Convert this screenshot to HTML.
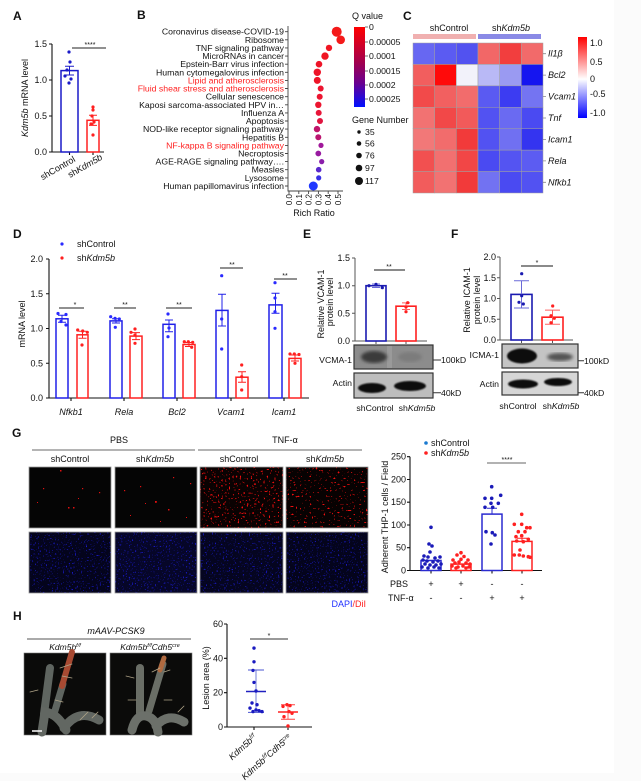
<!DOCTYPE html>
<html><head><meta charset="utf-8">
<style>
html,body{margin:0;padding:0;background:#fff;}
svg{display:block;}
text{font-family:"Liberation Sans",Arial,sans-serif;fill:#111;}
.i{font-style:italic;}
</style></head><body>
<svg width="641" height="781" viewBox="0 0 641 781" xmlns="http://www.w3.org/2000/svg">
<defs>
<linearGradient id="qg" x1="0" y1="0" x2="0" y2="1">
<stop offset="0" stop-color="#ff0000"/><stop offset="0.45" stop-color="#a00050"/><stop offset="0.7" stop-color="#6a0090"/><stop offset="1" stop-color="#0010ff"/>
</linearGradient>
<linearGradient id="hg" x1="0" y1="0" x2="0" y2="1">
<stop offset="0" stop-color="#ff0000"/><stop offset="0.52" stop-color="#ffffff"/><stop offset="1" stop-color="#0000ff"/>
</linearGradient>
<filter id="fr" filterUnits="objectBoundingBox" x="0" y="0" width="1" height="1" color-interpolation-filters="sRGB">
<feTurbulence type="fractalNoise" baseFrequency="0.55" numOctaves="1" seed="4"/>
<feColorMatrix type="matrix" values="0 0 0 0 0.95  0 0 0 0 0.06  0 0 0 0 0.06  14 0 0 0 -8.8"/>
</filter>
<filter id="fr2" filterUnits="objectBoundingBox" x="0" y="0" width="1" height="1" color-interpolation-filters="sRGB">
<feTurbulence type="fractalNoise" baseFrequency="0.5" numOctaves="1" seed="11"/>
<feColorMatrix type="matrix" values="0 0 0 0 0.95  0 0 0 0 0.06  0 0 0 0 0.06  14 0 0 0 -9.2"/>
</filter>
<filter id="fb" filterUnits="objectBoundingBox" x="0" y="0" width="1" height="1" color-interpolation-filters="sRGB">
<feTurbulence type="fractalNoise" baseFrequency="0.65" numOctaves="1" seed="9"/>
<feColorMatrix type="matrix" values="0 0 0 0 0.1  0 0 0 0 0.1  0 0 0 0 0.8  8 0 0 0 -4.9"/>
</filter>
<filter id="bl"><feGaussianBlur stdDeviation="1.6"/></filter>
<filter id="bl2"><feGaussianBlur stdDeviation="0.9"/></filter>
</defs>
<rect width="641" height="781" fill="#fbfbfb"/>
<rect x="0" y="0" width="614" height="773" fill="#fff"/>

<!-- ===== Panel A ===== -->
<text x="13" y="20" font-size="12" font-weight="bold">A</text>
<g font-size="9" text-anchor="end">
<text x="47" y="155">0.0</text><text x="47" y="119">0.5</text><text x="47" y="83">1.0</text><text x="47" y="47">1.5</text>
</g>
<path d="M52,44V152H104 M49,44H52 M49,80H52 M49,116H52 M49,152H52 M69.5,152V155 M93,152V155" stroke="#111" stroke-width="1.1" fill="none"/>
<text transform="translate(28,98) rotate(-90)" text-anchor="middle" font-size="9"><tspan class="i">Kdm5b</tspan> mRNA level</text>
<rect x="61" y="70.6" width="17" height="81.4" fill="none" stroke="#1a1ac8" stroke-width="1.5"/>
<path d="M69.5,66.3V75 M65,66.3H74 M65,75H74" stroke="#1a1ac8" stroke-width="1"/>
<g fill="#1a1ac8"><circle cx="69" cy="52" r="1.6"/><circle cx="70" cy="62" r="1.6"/><circle cx="67" cy="70" r="1.6"/><circle cx="65" cy="76" r="1.6"/><circle cx="71" cy="79" r="1.6"/><circle cx="69" cy="83" r="1.6"/></g>
<rect x="87" y="120.3" width="12" height="31.7" fill="none" stroke="#ff2020" stroke-width="1.5"/>
<path d="M93,115.3V125.4 M89,115.3H97 M89,125.4H97" stroke="#ff2020" stroke-width="1"/>
<g fill="#ff2020"><circle cx="93" cy="107" r="1.6"/><circle cx="93" cy="110" r="1.6"/><circle cx="92" cy="116" r="1.6"/><circle cx="94" cy="122" r="1.6"/><circle cx="91" cy="124" r="1.6"/><circle cx="93" cy="135" r="1.6"/></g>
<path d="M72,48H106" stroke="#222" stroke-width="1"/>
<text x="90" y="47" font-size="7" text-anchor="middle">****</text>
<text transform="translate(76,161) rotate(-30)" text-anchor="end" font-size="9">shControl</text>
<text transform="translate(103,159) rotate(-30)" text-anchor="end" font-size="9">sh<tspan class="i">Kdm5b</tspan></text>

<!-- ===== Panel B ===== -->
<text x="137" y="19" font-size="12" font-weight="bold">B</text>
<g font-size="8.7" text-anchor="end">
<text x="284" y="34.7">Coronavirus disease-COVID-19</text>
<text x="284" y="42.8">Ribosome</text>
<text x="284" y="50.9">TNF signaling pathway</text>
<text x="284" y="59.1">MicroRNAs in cancer</text>
<text x="284" y="67.2">Epstein-Barr virus infection</text>
<text x="284" y="75.3">Human cytomegalovirus infection</text>
<text x="284" y="83.4" style="fill:#ff2020">Lipid and atherosclerosis</text>
<text x="284" y="91.5" style="fill:#ff2020">Fluid shear stress and atherosclerosis</text>
<text x="284" y="99.7">Cellular senescence</text>
<text x="284" y="107.8">Kaposi sarcoma-associated HPV in…</text>
<text x="284" y="115.9">Influenza A</text>
<text x="284" y="124">Apoptosis</text>
<text x="284" y="132.1">NOD-like receptor signaling pathway</text>
<text x="284" y="140.3">Hepatitis B</text>
<text x="284" y="148.4" style="fill:#ff2020">NF-kappa B signaling pathway</text>
<text x="284" y="156.5">Necroptosis</text>
<text x="284" y="164.6">AGE-RAGE signaling pathway….</text>
<text x="284" y="172.7">Measles</text>
<text x="284" y="180.9">Lysosome</text>
<text x="284" y="189">Human papillomavirus infection</text>
</g>
<path d="M288,26V191H343 M285,31.7h3 M285,39.8h3 M285,47.9h3 M285,56.1h3 M285,64.2h3 M285,72.3h3 M285,80.4h3 M285,88.5h3 M285,96.7h3 M285,104.8h3 M285,112.9h3 M285,121h3 M285,129.1h3 M285,137.3h3 M285,145.4h3 M285,153.5h3 M285,161.6h3 M285,169.7h3 M285,177.9h3 M285,186h3 M289,191v3 M298.8,191v3 M308.6,191v3 M318.4,191v3 M328.2,191v3 M338,191v3" stroke="#444" stroke-width="0.9" fill="none"/>
<g font-size="8" text-anchor="end">
<text transform="translate(292,194) rotate(-90)">0.0</text>
<text transform="translate(301.8,194) rotate(-90)">0.1</text>
<text transform="translate(311.6,194) rotate(-90)">0.2</text>
<text transform="translate(321.4,194) rotate(-90)">0.3</text>
<text transform="translate(331.2,194) rotate(-90)">0.4</text>
<text transform="translate(341,194) rotate(-90)">0.5</text>
</g>
<text x="314" y="216" font-size="9" text-anchor="middle">Rich Ratio</text>
<circle cx="336.7" cy="31.7" r="5" fill="#f41a1a"/>
<circle cx="340.7" cy="39.8" r="4.3" fill="#f41a1a"/>
<circle cx="329" cy="47.9" r="3.2" fill="#f01522"/>
<circle cx="325" cy="56.1" r="3.7" fill="#f01522"/>
<circle cx="319" cy="64.2" r="3.3" fill="#ee1428"/>
<circle cx="317.3" cy="72.3" r="3.7" fill="#ee1428"/>
<circle cx="317.3" cy="80.4" r="3.5" fill="#ee1428"/>
<circle cx="320.7" cy="88.5" r="3" fill="#ec1530"/>
<circle cx="319.7" cy="96.7" r="3" fill="#ec1530"/>
<circle cx="318.3" cy="104.8" r="3.2" fill="#ec1530"/>
<circle cx="318.7" cy="112.9" r="3" fill="#e81538"/>
<circle cx="320" cy="121" r="3" fill="#e01540"/>
<circle cx="317" cy="129.1" r="3.2" fill="#c0156a"/>
<circle cx="318.3" cy="137.3" r="3" fill="#bb1570"/>
<circle cx="321" cy="145.4" r="2.6" fill="#a0189a"/>
<circle cx="318.3" cy="153.5" r="2.9" fill="#981aa0"/>
<circle cx="321.7" cy="161.6" r="2.6" fill="#8a1eaa"/>
<circle cx="318.7" cy="169.7" r="2.8" fill="#5a28cc"/>
<circle cx="318.7" cy="177.9" r="2.6" fill="#3830e6"/>
<circle cx="313.3" cy="186" r="4.5" fill="#2038ff"/>
<!-- Q value legend -->
<text x="352" y="19" font-size="9">Q value</text>
<rect x="354" y="27" width="11" height="80" fill="url(#qg)"/>
<path d="M365,27h3 M365,42h3 M365,56h3 M365,71h3 M365,85h3 M365,99h3" stroke="#444" stroke-width="0.8"/>
<g font-size="8.7">
<text x="369" y="30">0</text><text x="369" y="45">0.00005</text><text x="369" y="59">0.0001</text><text x="369" y="74">0.00015</text><text x="369" y="88">0.0002</text><text x="369" y="102">0.00025</text>
</g>
<text x="352" y="123" font-size="9">Gene Number</text>
<g fill="#111"><circle cx="359" cy="132" r="1.7"/><circle cx="359" cy="143.5" r="2.3"/><circle cx="359" cy="155.5" r="2.8"/><circle cx="359" cy="168" r="3.3"/><circle cx="359" cy="181" r="4"/></g>
<g font-size="8.7"><text x="365" y="135">35</text><text x="365" y="146.5">56</text><text x="365" y="158.5">76</text><text x="365" y="171">97</text><text x="365" y="184">117</text></g>

<!-- ===== Panel C ===== -->
<text x="403" y="20" font-size="12" font-weight="bold">C</text>
<text x="449" y="31" font-size="9" text-anchor="middle">shControl</text>
<text x="511" y="31" font-size="9" text-anchor="middle">sh<tspan class="i">Kdm5b</tspan></text>
<rect x="413" y="34" width="63" height="5" fill="#f0b0b0"/>
<rect x="478" y="34" width="63" height="5" fill="#8a8ae6"/>
<g stroke="#a0a0a0" stroke-width="0.5">
<rect x="413" y="43" width="21.67" height="21.43" fill="#6767f2"/><rect x="434.67" y="43" width="21.67" height="21.43" fill="#5b5bf2"/><rect x="456.33" y="43" width="21.67" height="21.43" fill="#5252f0"/><rect x="478" y="43" width="21.67" height="21.43" fill="#f26767"/><rect x="499.67" y="43" width="21.67" height="21.43" fill="#f23e3e"/><rect x="521.33" y="43" width="21.67" height="21.43" fill="#f26a6a"/>
<rect x="413" y="64.43" width="21.67" height="21.43" fill="#f25e5e"/><rect x="434.67" y="64.43" width="21.67" height="21.43" fill="#ff0a0a"/><rect x="456.33" y="64.43" width="21.67" height="21.43" fill="#f2f2fa"/><rect x="478" y="64.43" width="21.67" height="21.43" fill="#b9b9f6"/><rect x="499.67" y="64.43" width="21.67" height="21.43" fill="#9a9af2"/><rect x="521.33" y="64.43" width="21.67" height="21.43" fill="#1515f0"/>
<rect x="413" y="85.86" width="21.67" height="21.43" fill="#f24a4a"/><rect x="434.67" y="85.86" width="21.67" height="21.43" fill="#f26060"/><rect x="456.33" y="85.86" width="21.67" height="21.43" fill="#f26c6c"/><rect x="478" y="85.86" width="21.67" height="21.43" fill="#5a5af2"/><rect x="499.67" y="85.86" width="21.67" height="21.43" fill="#3c3cf2"/><rect x="521.33" y="85.86" width="21.67" height="21.43" fill="#7474f2"/>
<rect x="413" y="107.29" width="21.67" height="21.43" fill="#f27272"/><rect x="434.67" y="107.29" width="21.67" height="21.43" fill="#f24848"/><rect x="456.33" y="107.29" width="21.67" height="21.43" fill="#f25a5a"/><rect x="478" y="107.29" width="21.67" height="21.43" fill="#5252f2"/><rect x="499.67" y="107.29" width="21.67" height="21.43" fill="#6a6af2"/><rect x="521.33" y="107.29" width="21.67" height="21.43" fill="#4a4af2"/>
<rect x="413" y="128.71" width="21.67" height="21.43" fill="#f27878"/><rect x="434.67" y="128.71" width="21.67" height="21.43" fill="#f26c6c"/><rect x="456.33" y="128.71" width="21.67" height="21.43" fill="#f23a3a"/><rect x="478" y="128.71" width="21.67" height="21.43" fill="#5252f2"/><rect x="499.67" y="128.71" width="21.67" height="21.43" fill="#7070f2"/><rect x="521.33" y="128.71" width="21.67" height="21.43" fill="#3434f0"/>
<rect x="413" y="150.14" width="21.67" height="21.43" fill="#f25050"/><rect x="434.67" y="150.14" width="21.67" height="21.43" fill="#f27070"/><rect x="456.33" y="150.14" width="21.67" height="21.43" fill="#f24646"/><rect x="478" y="150.14" width="21.67" height="21.43" fill="#4a4af2"/><rect x="499.67" y="150.14" width="21.67" height="21.43" fill="#5454f2"/><rect x="521.33" y="150.14" width="21.67" height="21.43" fill="#5c5cf2"/>
<rect x="413" y="171.57" width="21.67" height="21.43" fill="#f25c5c"/><rect x="434.67" y="171.57" width="21.67" height="21.43" fill="#f27272"/><rect x="456.33" y="171.57" width="21.67" height="21.43" fill="#f23a3a"/><rect x="478" y="171.57" width="21.67" height="21.43" fill="#7272f2"/><rect x="499.67" y="171.57" width="21.67" height="21.43" fill="#4a4af2"/><rect x="521.33" y="171.57" width="21.67" height="21.43" fill="#5252f2"/>
</g>
<path d="M543,53.7h3 M543,75.1h3 M543,96.6h3 M543,118h3 M543,139.4h3 M543,160.9h3 M543,182.3h3" stroke="#888" stroke-width="0.8"/>
<g font-size="9" class="i">
<text x="548" y="56.7" class="i">Il1β</text><text x="548" y="78.1" class="i">Bcl2</text><text x="548" y="99.6" class="i">Vcam1</text><text x="548" y="121" class="i">Tnf</text><text x="548" y="142.4" class="i">Icam1</text><text x="548" y="163.9" class="i">Rela</text><text x="548" y="185.3" class="i">Nfkb1</text>
</g>
<rect x="578" y="37" width="9" height="81" fill="url(#hg)"/>
<g font-size="9"><text x="590" y="46">1.0</text><text x="590" y="65">0.5</text><text x="590" y="82">0</text><text x="590" y="97">-0.5</text><text x="590" y="116">-1.0</text></g>

<!-- ===== Panel D ===== -->
<text x="13" y="238" font-size="12" font-weight="bold">D</text>
<circle cx="62" cy="244" r="1.6" fill="#2a2aff"/><text x="77" y="247" font-size="9">shControl</text>
<circle cx="62" cy="258" r="1.6" fill="#ff2020"/><text x="77" y="261" font-size="9">sh<tspan class="i">Kdm5b</tspan></text>
<path d="M49,259V398H309 M46,259H49 M46,293.75H49 M46,328.5H49 M46,363.25H49 M46,398H49 M71,398v3 M124,398v3 M177,398v3 M231,398v3 M284,398v3" stroke="#111" stroke-width="1.1" fill="none"/>
<g font-size="9" text-anchor="end"><text x="43" y="262">2.0</text><text x="43" y="296.75">1.5</text><text x="43" y="331.5">1.0</text><text x="43" y="366.25">0.5</text><text x="43" y="401">0.0</text></g>
<text transform="translate(25,324) rotate(-90)" text-anchor="middle" font-size="9">mRNA level</text>
<g font-size="9" class="i" text-anchor="middle"><text x="71" y="415" class="i">Nfkb1</text><text x="124" y="415" class="i">Rela</text><text x="177" y="415" class="i">Bcl2</text><text x="231" y="415" class="i">Vcam1</text><text x="284" y="415" class="i">Icam1</text></g>
<g fill="none" stroke-width="1.5">
<rect x="56" y="318.8" width="12" height="79.2" stroke="#2020e8"/>
<rect x="77" y="334.8" width="11" height="63.2" stroke="#ff2020"/>
<rect x="110" y="320.9" width="12" height="77.1" stroke="#2020e8"/>
<rect x="130" y="336.1" width="12" height="61.9" stroke="#ff2020"/>
<rect x="163" y="324.3" width="12" height="73.7" stroke="#2020e8"/>
<rect x="183" y="344.5" width="12" height="53.5" stroke="#ff2020"/>
<rect x="216" y="310.4" width="12" height="87.6" stroke="#2020e8"/>
<rect x="236" y="377.2" width="12" height="20.8" stroke="#ff2020"/>
<rect x="269" y="304.9" width="13" height="93.1" stroke="#2020e8"/>
<rect x="289" y="358.4" width="12" height="39.6" stroke="#ff2020"/>
</g>
<g stroke-width="1" fill="none">
<path d="M62,315.3V322.3 M58,315.3H66 M58,322.3H66 M116,318.8V323 M112,318.8H120 M112,323H120 M169,320V331.7 M165,320H173 M165,331.7H173 M222,294.3V326 M218,294.3H226 M218,326H226 M275.5,293.3V313.3 M271.5,293.3H279.5 M271.5,313.3H279.5" stroke="#2020e8"/>
<path d="M82.5,331.3V338.3 M78.5,331.3H86.5 M78.5,338.3H86.5 M136,332.6V339.6 M132,332.6H140 M132,339.6H140 M189,342.5V346.5 M185,342.5H193 M185,346.5H193 M242,371.7V382.3 M238,371.7H246 M238,382.3H246 M295,355V361 M291,355H299 M291,361H299" stroke="#ff2020"/>
</g>
<g fill="#2a2aff">
<circle cx="58" cy="313.5" r="1.6"/><circle cx="66" cy="314.5" r="1.6"/><circle cx="61" cy="321.5" r="1.6"/><circle cx="66" cy="325" r="1.6"/>
<circle cx="110.7" cy="316.7" r="1.6"/><circle cx="115" cy="318.3" r="1.6"/><circle cx="119.3" cy="319" r="1.6"/><circle cx="115.3" cy="327.3" r="1.6"/>
<circle cx="168" cy="314" r="1.6"/><circle cx="169" cy="328" r="1.6"/><circle cx="168" cy="336.7" r="1.6"/>
<circle cx="221.7" cy="275.7" r="1.6"/><circle cx="221.7" cy="319" r="1.6"/><circle cx="221.7" cy="349" r="1.6"/>
<circle cx="275" cy="282.7" r="1.6"/><circle cx="275" cy="298" r="1.6"/><circle cx="275" cy="311.7" r="1.6"/><circle cx="275" cy="328.3" r="1.6"/>
</g>
<g fill="#ff2020">
<circle cx="77.7" cy="330" r="1.6"/><circle cx="82.7" cy="331" r="1.6"/><circle cx="87.3" cy="332.3" r="1.6"/><circle cx="82" cy="345" r="1.6"/>
<circle cx="135" cy="329" r="1.6"/><circle cx="131" cy="332.3" r="1.6"/><circle cx="135" cy="335" r="1.6"/><circle cx="135" cy="343.3" r="1.6"/>
<circle cx="184.3" cy="341.7" r="1.6"/><circle cx="188.3" cy="341.7" r="1.6"/><circle cx="192.7" cy="342.3" r="1.6"/><circle cx="191.7" cy="347.3" r="1.6"/>
<circle cx="241.7" cy="365" r="1.6"/><circle cx="241.7" cy="376.7" r="1.6"/><circle cx="241.7" cy="390" r="1.6"/>
<circle cx="290" cy="354" r="1.6"/><circle cx="294.3" cy="354" r="1.6"/><circle cx="299" cy="354.5" r="1.6"/><circle cx="295" cy="363.3" r="1.6"/>
</g>
<path d="M59,308H84 M114,308H136 M166,308H192 M220,268H243 M274,279H297" stroke="#222" stroke-width="1"/>
<g font-size="7" text-anchor="middle"><text x="75" y="307">*</text><text x="125" y="307">**</text><text x="179" y="307">**</text><text x="232" y="267">**</text><text x="285" y="278">**</text></g>

<!-- ===== Panel E ===== -->
<text x="303" y="238" font-size="12" font-weight="bold">E</text>
<path d="M355,258V341H427 M352,258H355 M352,285.7H355 M352,313.3H355 M352,341H355 M376,341v3 M406,341v3" stroke="#555" stroke-width="1" fill="none"/>
<g font-size="9" text-anchor="end"><text x="350" y="261">1.5</text><text x="350" y="288.7">1.0</text><text x="350" y="316.3">0.5</text><text x="350" y="344">0.0</text></g>
<text transform="translate(324,304) rotate(-90)" text-anchor="middle" font-size="9">Relative VCAM-1</text>
<text transform="translate(333,302) rotate(-90)" text-anchor="middle" font-size="9">protein level</text>
<rect x="366" y="285.7" width="20" height="55.3" fill="none" stroke="#1a1ab0" stroke-width="1.6"/>
<rect x="396" y="306.2" width="20" height="34.8" fill="none" stroke="#ff2020" stroke-width="1.6"/>
<path d="M376,284V287.5 M372,284H380 M372,287.5H380" stroke="#6a6ad8" stroke-width="1"/>
<path d="M406,302.9V309.5 M402,302.9H410 M402,309.5H410" stroke="#ff6060" stroke-width="1"/>
<g fill="#1a1ab0"><circle cx="369" cy="285.7" r="1.6"/><circle cx="376" cy="284.3" r="1.6"/><circle cx="382.3" cy="287.7" r="1.6"/></g>
<g fill="#ff2020"><circle cx="407.7" cy="302.7" r="1.6"/><circle cx="406" cy="307" r="1.6"/><circle cx="406" cy="311.7" r="1.6"/></g>
<path d="M374,270H405" stroke="#444" stroke-width="1.2"/>
<text x="389" y="269" font-size="7" text-anchor="middle">**</text>
<!-- E blots -->
<rect x="354" y="345" width="79" height="24" fill="#8c8c8c" stroke="#333" stroke-width="1.2"/>
<rect x="387" y="346" width="5" height="22" fill="#9a9a9a"/>
<ellipse cx="374" cy="357" rx="13" ry="6" fill="#3a3a3a" filter="url(#bl)"/>
<ellipse cx="410" cy="357" rx="12" ry="5" fill="#7c7c7c" filter="url(#bl)"/>
<rect x="354" y="373" width="79" height="25" fill="#bdbdbd" stroke="#333" stroke-width="1.2"/>
<ellipse cx="372" cy="388" rx="14" ry="5" fill="#111" filter="url(#bl2)"/>
<ellipse cx="410" cy="386" rx="16" ry="5" fill="#111" filter="url(#bl2)"/>
<g font-size="8.7">
<text x="352" y="363" text-anchor="end">VCMA-1</text>
<text x="352" y="386" text-anchor="end">Actin</text>
<text x="441" y="363">100kD</text>
<text x="441" y="396">40kD</text>
<text x="375" y="411" text-anchor="middle">shControl</text>
<text x="417" y="411" text-anchor="middle">sh<tspan class="i">Kdm5b</tspan></text>
</g>
<path d="M433,360H441 M433,392.7H441" stroke="#333" stroke-width="1"/>

<!-- ===== Panel F ===== -->
<text x="451" y="238" font-size="12" font-weight="bold">F</text>
<path d="M500,257V340H573 M497,257H500 M497,277.75H500 M497,298.5H500 M497,319.25H500 M497,340H500 M521.5,340v3 M552.5,340v3" stroke="#555" stroke-width="1" fill="none"/>
<g font-size="9" text-anchor="end"><text x="496" y="260">2.0</text><text x="496" y="280.75">1.5</text><text x="496" y="301.5">1.0</text><text x="496" y="322.25">0.5</text><text x="496" y="343">0.0</text></g>
<text transform="translate(470,300) rotate(-90)" text-anchor="middle" font-size="9">Relative ICAM-1</text>
<text transform="translate(480,300) rotate(-90)" text-anchor="middle" font-size="9">protein level</text>
<rect x="511" y="294.4" width="21" height="45.6" fill="none" stroke="#1a1ab0" stroke-width="1.6"/>
<rect x="542" y="317.2" width="21" height="22.8" fill="none" stroke="#ff2020" stroke-width="1.6"/>
<path d="M521.5,280.7V308 M514,280.7H529 M514,308H529" stroke="#6a6ad8" stroke-width="1"/>
<path d="M552.5,310.1V324.2 M545,310.1H560 M545,324.2H560" stroke="#ff6060" stroke-width="1"/>
<g fill="#1a1ab0"><circle cx="521.7" cy="273.7" r="1.6"/><circle cx="521.7" cy="295.7" r="1.6"/><circle cx="519" cy="302.3" r="1.6"/><circle cx="523.3" cy="304" r="1.6"/></g>
<g fill="#ff2020"><circle cx="552.7" cy="306" r="1.6"/><circle cx="551" cy="315.7" r="1.6"/><circle cx="554.3" cy="318.3" r="1.6"/><circle cx="551" cy="322.7" r="1.6"/></g>
<path d="M521,266H553" stroke="#444" stroke-width="1.2"/>
<text x="537" y="265" font-size="7" text-anchor="middle">*</text>
<!-- F blots -->
<rect x="502" y="344" width="76" height="24" fill="#c4c4c4" stroke="#333" stroke-width="1.2"/>
<ellipse cx="522" cy="356" rx="15" ry="7.5" fill="#111" filter="url(#bl2)"/>
<ellipse cx="560" cy="357" rx="13" ry="4" fill="#555" filter="url(#bl)"/>
<rect x="502" y="372" width="76" height="23" fill="#d6d6d6" stroke="#333" stroke-width="1.2"/>
<ellipse cx="523" cy="384" rx="15" ry="4.5" fill="#111" filter="url(#bl2)"/>
<ellipse cx="558" cy="382" rx="14" ry="4" fill="#111" filter="url(#bl2)"/>
<g font-size="8.7">
<text x="499" y="358" text-anchor="end">ICMA-1</text>
<text x="499" y="387" text-anchor="end">Actin</text>
<text x="584" y="364">100kD</text>
<text x="584" y="396">40kD</text>
<text x="518" y="409" text-anchor="middle">shControl</text>
<text x="561" y="409" text-anchor="middle">sh<tspan class="i">Kdm5b</tspan></text>
</g>
<path d="M578,360.7H584 M578,392.7H584" stroke="#333" stroke-width="1"/>

<!-- ===== Panel G ===== -->
<text x="12" y="437" font-size="12" font-weight="bold">G</text>
<text x="119" y="443" font-size="9" text-anchor="middle">PBS</text>
<text x="285" y="443" font-size="9" text-anchor="middle">TNF-α</text>
<path d="M32,450H195 M198,450H362" stroke="#888" stroke-width="1.2"/>
<g font-size="9" text-anchor="middle">
<text x="70" y="462">shControl</text><text x="155" y="462">sh<tspan class="i">Kdm5b</tspan></text>
<text x="239" y="462">shControl</text><text x="325" y="462">sh<tspan class="i">Kdm5b</tspan></text>
</g>
<!-- row 1 -->
<rect x="29" y="467" width="82" height="61" fill="#050505"/>
<rect x="115" y="467" width="82" height="61" fill="#050505"/>
<rect x="200" y="467" width="83" height="61" fill="#0a0202"/>
<rect x="200" y="467" width="83" height="61" filter="url(#fr)"/>
<rect x="286" y="467" width="82" height="61" fill="#070202"/>
<rect x="286" y="467" width="82" height="61" filter="url(#fr2)"/>
<g fill="#e01010">
<rect x="60" y="470" width="1.5" height="1.5"/><rect x="43" y="488" width="1.2" height="1.2"/><rect x="82" y="488" width="1.2" height="1.2"/><rect x="99" y="492" width="1.2" height="1.2"/><rect x="68" y="507" width="1.5" height="1.5"/><rect x="73" y="507" width="1.5" height="1.5"/><rect x="78" y="498" width="1" height="1"/><rect x="37" y="502" width="1" height="1"/>
<rect x="124" y="490" width="1.2" height="1.2"/><rect x="140" y="486" width="1.2" height="1.2"/><rect x="155" y="501" width="1.8" height="1.8"/><rect x="168" y="509" width="1.5" height="1.5"/><rect x="173" y="477" width="1.2" height="1.2"/><rect x="190" y="483" width="1.2" height="1.2"/><rect x="145" y="503" width="1" height="1"/><rect x="130" y="515" width="1" height="1"/><rect x="186" y="517" width="1" height="1"/><rect x="160" y="521" width="1" height="1"/>
</g>
<!-- row 2 -->
<rect x="29" y="532" width="82" height="61" fill="#04041c"/>
<rect x="29" y="532" width="82" height="61" filter="url(#fb)"/>
<rect x="115" y="532" width="82" height="61" fill="#060628"/>
<rect x="115" y="532" width="82" height="61" filter="url(#fb)"/>
<rect x="200" y="532" width="83" height="61" fill="#050520"/>
<rect x="200" y="532" width="83" height="61" filter="url(#fb)"/>
<rect x="286" y="532" width="82" height="61" fill="#04041c"/>
<rect x="286" y="532" width="82" height="61" filter="url(#fb)"/>
<g fill="none" stroke="#9a9a9a" stroke-width="0.8">
<rect x="29" y="467" width="82" height="61"/><rect x="115" y="467" width="82" height="61"/><rect x="200" y="467" width="83" height="61"/><rect x="286" y="467" width="82" height="61"/>
<rect x="29" y="532" width="82" height="61"/><rect x="115" y="532" width="82" height="61"/><rect x="200" y="532" width="83" height="61"/><rect x="286" y="532" width="82" height="61"/>
</g>
<text x="366" y="607" font-size="9" text-anchor="end"><tspan style="fill:#2030ff">DAPI</tspan><tspan style="fill:#ff2020">/DiI</tspan></text>
<!-- G chart -->
<circle cx="426" cy="443" r="1.8" fill="#1a7ad0"/><text x="431" y="446" font-size="9">shControl</text>
<circle cx="426" cy="453" r="1.8" fill="#ff2020"/><text x="431" y="456" font-size="9">sh<tspan class="i">Kdm5b</tspan></text>
<path d="M410,456.7V570.5H542 M407,456.7H410 M407,479.5H410 M407,502.2H410 M407,525H410 M407,547.7H410 M407,570.5H410 M431,570.5v3 M461,570.5v3 M492,570.5v3 M522,570.5v3" stroke="#111" stroke-width="1.1" fill="none"/>
<g font-size="9" text-anchor="end"><text x="406" y="459.7">250</text><text x="406" y="482.5">200</text><text x="406" y="505.2">150</text><text x="406" y="528">100</text><text x="406" y="550.7">50</text><text x="406" y="573.5">0</text></g>
<text transform="translate(388,517) rotate(-90)" text-anchor="middle" font-size="9">Adherent THP-1 cells / Field</text>
<rect x="421" y="560.5" width="20" height="10" fill="none" stroke="#2a2ad0" stroke-width="1.5"/>
<rect x="451" y="564.1" width="20" height="6.4" fill="none" stroke="#ff2020" stroke-width="1.5"/>
<rect x="482" y="514.1" width="20" height="56.4" fill="none" stroke="#2a2ad0" stroke-width="1.5"/>
<rect x="512" y="541.4" width="20" height="29.1" fill="none" stroke="#ff2020" stroke-width="1.5"/>
<path d="M492,508.2V514 M487,508.2H497" stroke="#2a2ad0" stroke-width="1"/>
<path d="M522,538.2V541.4 M517,538.2H527" stroke="#ff2020" stroke-width="1"/>
<g fill="#1a1ab8">
<circle cx="431" cy="527.3" r="1.8"/><circle cx="429" cy="544" r="1.8"/><circle cx="432" cy="546" r="1.8"/><circle cx="430" cy="552" r="1.8"/><circle cx="424" cy="556" r="1.8"/><circle cx="428" cy="557" r="1.8"/><circle cx="435" cy="558" r="1.8"/><circle cx="440" cy="557" r="1.8"/><circle cx="423" cy="560" r="1.8"/><circle cx="427" cy="561" r="1.8"/><circle cx="433" cy="562" r="1.8"/><circle cx="438" cy="561" r="1.8"/><circle cx="425" cy="564" r="1.8"/><circle cx="430" cy="565" r="1.8"/><circle cx="436" cy="565" r="1.8"/><circle cx="441" cy="564" r="1.8"/><circle cx="422" cy="567" r="1.8"/><circle cx="428" cy="568" r="1.8"/><circle cx="434" cy="567" r="1.8"/><circle cx="439" cy="568" r="1.8"/>
<circle cx="491.7" cy="486.7" r="1.8"/><circle cx="500.7" cy="495.3" r="1.8"/><circle cx="485" cy="498.3" r="1.8"/><circle cx="491.7" cy="498.3" r="1.8"/><circle cx="498.3" cy="503.3" r="1.8"/><circle cx="491" cy="503.3" r="1.8"/><circle cx="485" cy="507.3" r="1.8"/><circle cx="492.7" cy="507.3" r="1.8"/><circle cx="486" cy="531.7" r="1.8"/><circle cx="492.3" cy="532.7" r="1.8"/><circle cx="495" cy="535" r="1.8"/><circle cx="491" cy="544" r="1.8"/>
</g>
<g fill="#ff2020">
<circle cx="461" cy="552.7" r="1.8"/><circle cx="457" cy="555" r="1.8"/><circle cx="464" cy="556.5" r="1.8"/><circle cx="461" cy="559.3" r="1.8"/><circle cx="453" cy="560" r="1.8"/><circle cx="468" cy="560" r="1.8"/><circle cx="455" cy="563" r="1.8"/><circle cx="459" cy="562" r="1.8"/><circle cx="466" cy="563" r="1.8"/><circle cx="470" cy="564" r="1.8"/><circle cx="452" cy="566" r="1.8"/><circle cx="458" cy="567" r="1.8"/><circle cx="463" cy="566" r="1.8"/><circle cx="469" cy="567" r="1.8"/><circle cx="456" cy="568" r="1.8"/><circle cx="466" cy="568" r="1.8"/>
<circle cx="521.7" cy="514.3" r="1.8"/><circle cx="514.3" cy="524.3" r="1.8"/><circle cx="521.7" cy="524.3" r="1.8"/><circle cx="526.7" cy="527.7" r="1.8"/><circle cx="530" cy="527.7" r="1.8"/><circle cx="518.3" cy="531.7" r="1.8"/><circle cx="525" cy="531.7" r="1.8"/><circle cx="516" cy="536.7" r="1.8"/><circle cx="521.7" cy="535.7" r="1.8"/><circle cx="528.3" cy="539.3" r="1.8"/><circle cx="516.7" cy="541" r="1.8"/><circle cx="523.3" cy="541.7" r="1.8"/><circle cx="514.3" cy="555" r="1.8"/><circle cx="519.3" cy="555" r="1.8"/><circle cx="523.3" cy="556" r="1.8"/><circle cx="528.3" cy="556.7" r="1.8"/><circle cx="520" cy="550" r="1.8"/><circle cx="530" cy="557.3" r="1.8"/>
</g>
<path d="M487,463H526" stroke="#666" stroke-width="1.1"/>
<text x="507" y="462" font-size="7" text-anchor="middle">****</text>
<g font-size="9">
<text x="390" y="587">PBS</text><text x="388" y="601">TNF-α</text>
</g>
<g font-size="9" text-anchor="middle">
<text x="431" y="587">+</text><text x="461" y="587">+</text><text x="492" y="587">-</text><text x="522" y="587">-</text>
<text x="431" y="601">-</text><text x="461" y="601">-</text><text x="492" y="601">+</text><text x="522" y="601">+</text>
</g>

<!-- ===== Panel H ===== -->
<text x="13" y="620" font-size="12" font-weight="bold">H</text>
<text x="116" y="634" font-size="9" text-anchor="middle" class="i">mAAV-PCSK9</text>
<path d="M27,639H191" stroke="#555" stroke-width="1.1"/>
<text x="65" y="650" font-size="8.5" text-anchor="middle" class="i">Kdm5b<tspan font-size="5.5" dy="-3">f/f</tspan></text>
<text x="150" y="650" font-size="8.5" text-anchor="middle" class="i">Kdm5b<tspan font-size="5.5" dy="-3">f/f</tspan><tspan dy="3">Cdh5</tspan><tspan font-size="5.5" dy="-3">cre</tspan></text>
<rect x="24" y="653" width="82" height="82" fill="#0b0b0a" stroke="#777" stroke-width="0.6"/>
<rect x="110" y="653" width="82" height="82" fill="#0b0b0a" stroke="#777" stroke-width="0.6"/>
<g fill="none" stroke-linecap="round">
<path d="M50,668 L44,714" stroke="#5f6560" stroke-width="8"/>
<path d="M63,684 L54,714" stroke="#5f6560" stroke-width="7"/>
<path d="M72,652 L62,686" stroke="#a84a32" stroke-width="6"/>
<path d="M42,732 L45,712 Q58,714 66,730 M64,728 Q78,708 99,720" stroke="#626762" stroke-width="9"/>
<path d="M60,668 l12,-4 M62,676 l10,2 M38,690 l-8,2 M80,720 l8,-8 M92,718 l6,-6 M55,700 l8,2" stroke="#b0a488" stroke-width="0.8"/>
<path d="M140,668 L140,713" stroke="#6a6e66" stroke-width="8"/>
<path d="M163,664 L149,711" stroke="#6a6e66" stroke-width="7"/>
<path d="M164,658 L160,670" stroke="#b06a40" stroke-width="5"/>
<path d="M132,730 Q136,714 146,716 Q156,718 158,732 M156,726 Q168,712 184,722" stroke="#6c706a" stroke-width="9"/>
<path d="M126,676 l8,2 M128,700 l8,0 M152,672 l8,-4 M170,670 l-6,2 M172,700 l-8,0 M178,712 l6,-6" stroke="#b0a488" stroke-width="0.8"/>
</g>
<path d="M32,731H42" stroke="#fff" stroke-width="1.5"/>
<!-- H chart -->
<path d="M227,624V727H312 M224,624H227 M224,658.3H227 M224,692.7H227 M224,727H227 M254,727v3 M288,727v3" stroke="#111" stroke-width="1.1" fill="none"/>
<g font-size="9" text-anchor="end"><text x="223" y="627">60</text><text x="223" y="661.3">40</text><text x="223" y="695.7">20</text><text x="223" y="730">0</text></g>
<text transform="translate(209,678) rotate(-90)" text-anchor="middle" font-size="9">Lesion area (%)</text>
<path d="M256,670V712.4" stroke="#8a94e0" stroke-width="1.2"/>
<path d="M248,670H264 M248,712.4H264" stroke="#4a54d0" stroke-width="1"/>
<path d="M246,691.5H266" stroke="#2020c0" stroke-width="1.4"/>
<path d="M288,704.7V719.3" stroke="#ff8080" stroke-width="1.2"/>
<path d="M281,704.7H295 M281,719.3H295" stroke="#ff4040" stroke-width="1"/>
<path d="M278,712H298" stroke="#ff2020" stroke-width="1.4"/>
<g fill="#1a1ac0">
<circle cx="254" cy="648.1" r="1.7"/><circle cx="254" cy="661.8" r="1.7"/><circle cx="253" cy="670.4" r="1.7"/><circle cx="254" cy="682.4" r="1.7"/><circle cx="256" cy="691" r="1.7"/><circle cx="252" cy="703" r="1.7"/><circle cx="257" cy="704.7" r="1.7"/><circle cx="250" cy="708.1" r="1.7"/><circle cx="256" cy="709.9" r="1.7"/><circle cx="259" cy="710.7" r="1.7"/><circle cx="253" cy="711.6" r="1.7"/><circle cx="262" cy="711.6" r="1.7"/>
</g>
<g fill="#ff2020">
<circle cx="287" cy="704.7" r="1.7"/><circle cx="290" cy="705.6" r="1.7"/><circle cx="283" cy="706.4" r="1.7"/><circle cx="289" cy="711.6" r="1.7"/><circle cx="292" cy="713.3" r="1.7"/><circle cx="284" cy="716.7" r="1.7"/><circle cx="288" cy="726" r="1.7"/>
</g>
<path d="M250,639H288" stroke="#333" stroke-width="1"/>
<text x="269" y="638" font-size="7" text-anchor="middle">*</text>
<text transform="translate(257,738) rotate(-42)" text-anchor="end" font-size="9" class="i">Kdm5b<tspan font-size="6" dy="-3">f/f</tspan></text>
<text transform="translate(292,738) rotate(-42)" text-anchor="end" font-size="9" class="i">Kdm5b<tspan font-size="6" dy="-3">f/f</tspan><tspan dy="3">Cdh5</tspan><tspan font-size="6" dy="-3">cre</tspan></text>
</svg>
</body></html>
